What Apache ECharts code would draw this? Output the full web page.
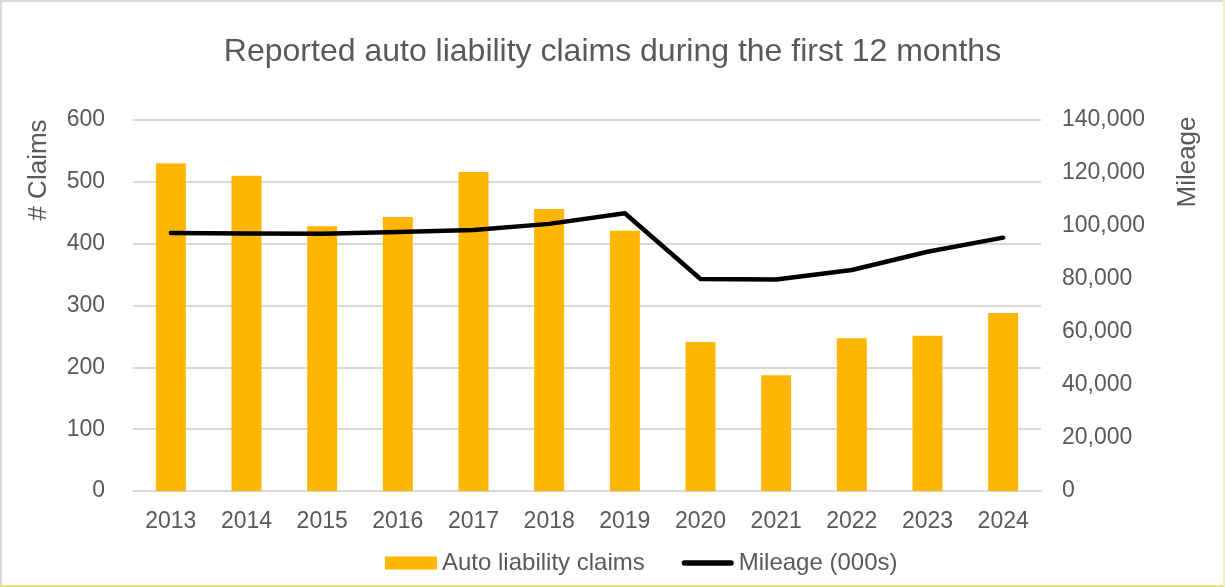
<!DOCTYPE html>
<html>
<head>
<meta charset="utf-8">
<script src="https://cdn.jsdelivr.net/npm/echarts@6/dist/echarts.min.js"></script>
<style>
  html, body { margin: 0; padding: 0; background: #fff; }
  #chart { position: absolute; left: 0; top: 0; width: 1225px; height: 587px; }
  #frame { position: absolute; left: 0; top: 0; width: 1221px; height: 583px;
           border: 2px solid #d9d9d9; pointer-events: none; }
  #edge { position: absolute; left: 0; top: 585px; width: 1225px; height: 2px; background: #e9e47f; pointer-events: none; }
  #edgeR { position: absolute; left: 1223px; top: 0; width: 2px; height: 587px; background: #efedc0; pointer-events: none; }
</style>
</head>
<body>
<div id="chart"></div>
<div id="frame"></div>
<div id="edge"></div>
<div id="edgeR"></div>
<script>
// data
var years = ['2013', '2014', '2015', '2016', '2017', '2018', '2019', '2020', '2021', '2022', '2023', '2024']
var claims = [530, 510, 428, 443, 516, 456, 421, 241, 187, 247, 251, 288]
var mileage = [97400, 97200, 97100, 97700, 98500, 100800, 104800, 80000, 79800, 83400, 90300, 95600]

var textColor = '#595959'
var font = 'Liberation Sans, Arial, sans-serif'

var myChart = echarts.init(document.getElementById('chart'))

var option = {
  animation: false,
  textStyle: { fontFamily: font },
  title: {
    text: 'Reported auto liability claims during the first 12 months',
    left: 'center',
    top: 31,
    textStyle: { color: textColor, fontSize: 32, fontWeight: 'normal', fontFamily: font }
  },
  grid: { left: 133, right: 184, top: 120, bottom: 96, containLabel: false },
  legend: {
    top: 546,
    left: 380,
    itemWidth: 52,
    itemHeight: 13,
    itemGap: 37,
    textStyle: { color: textColor, fontSize: 24, fontFamily: font },
    data: [
      { name: 'Auto liability claims', icon: 'rect' },
      { name: 'Mileage (000s)', icon: 'path://M3,0 L54,0 A3,3 0 0 1 54,6 L3,6 A3,3 0 0 1 3,0 Z', itemStyle: { color: '#000' } }
    ]
  },
  xAxis: {
    type: 'category',
    data: years,
    axisTick: { show: false },
    axisLine: { lineStyle: { color: '#d9d9d9', width: 2 } },
    axisLabel: { color: textColor, fontSize: 23, margin: 19, fontFamily: font }
  },
  yAxis: [
    {
      type: 'value',
      min: 0, max: 600, interval: 100,
      axisLine: { show: false },
      axisTick: { show: false },
      splitLine: { lineStyle: { color: '#d9d9d9', width: 2 } },
      axisLabel: { color: textColor, fontSize: 23, margin: 28, fontFamily: font }
    },
    {
      type: 'value',
      min: 0, max: 140000, interval: 20000,
      axisLine: { show: false },
      axisTick: { show: false },
      splitLine: { show: false },
      axisLabel: {
        color: textColor, fontSize: 23, margin: 21, fontFamily: font,
        formatter: function (v) { return v.toLocaleString('en-US') }
      }
    }
  ],
  graphic: [
    {
      type: 'text', x: 39, y: 170, rotation: Math.PI / 2,
      style: { text: '# Claims', fill: textColor, font: '26px ' + font, align: 'center', verticalAlign: 'middle' }
    },
    {
      type: 'text', x: 1188, y: 162, rotation: Math.PI / 2,
      style: { text: 'Mileage', fill: textColor, font: '26px ' + font, align: 'center', verticalAlign: 'middle' }
    }
  ],
  series: [
    {
      name: 'Auto liability claims',
      type: 'bar',
      data: claims,
      barWidth: 30,
      itemStyle: { color: '#ffb600' }
    },
    {
      name: 'Mileage (000s)',
      type: 'line',
      yAxisIndex: 1,
      data: mileage,
      symbol: 'none',
      lineStyle: { color: '#000', width: 4.5, cap: 'round', join: 'round' },
      itemStyle: { color: '#000' }
    }
  ]
}

myChart.setOption(option)
window.addEventListener('resize', () => { myChart.resize() })
</script>
</body>
</html>
